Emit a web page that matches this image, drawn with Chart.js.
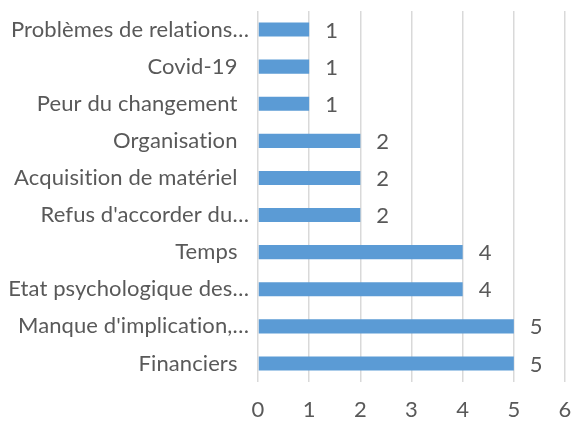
<!DOCTYPE html>
<html>
<head>
<meta charset="utf-8">
<script src="https://cdn.jsdelivr.net/npm/chart.js@4"></script>
<style>
  html, body { margin: 0; padding: 0; background: #fff; overflow: hidden; }
  #wrap { width: 571px; height: 421px; }
  canvas { font-variant-ligatures: none; }
</style>
</head>
<body>
<div id="wrap"><canvas id="chart"></canvas></div>
<script>
const categories = [
  'Problèmes de relations…',
  'Covid-19  ',
  'Peur du changement  ',
  'Organisation  ',
  'Acquisition de matériel  ',
  "Refus d'accorder du…",
  'Temps  ',
  'Etat psychologique des…',
  "Manque d'implication,…",
  'Financiers  '
];
const values = [1, 1, 1, 2, 2, 2, 4, 4, 5, 5];
const xTicks = [0, 1, 2, 3, 4, 5, 6];

const FONT = 'Lato';
const SIZE = 22;
const TEXT = '#595959';

// no "ti" ligatures, like the original text
const noLigatures = {
  id: 'noLigatures',
  beforeDraw(chart) { chart.ctx.letterSpacing = '0.1px'; }
};

// draw value next to each bar end
const valueLabels = {
  id: 'valueLabels',
  afterDatasetsDraw(chart) {
    const ctx = chart.ctx;
    const meta = chart.getDatasetMeta(0);
    ctx.save();
    ctx.font = SIZE + 'px "' + FONT + '"';
    ctx.fillStyle = TEXT;
    ctx.textBaseline = 'middle';
    ctx.textAlign = 'left';
    meta.data.forEach((bar, i) => {
      ctx.fillText(String(values[i]), bar.x + 16, bar.y + 1);
    });
    ctx.restore();
  }
};

new Chart(document.getElementById('chart').getContext('2d'), {
  type: 'bar',
  data: {
    labels: categories,
    datasets: [{
      data: values,
      backgroundColor: '#5B9BD5',
      categoryPercentage: 0.76,
      barPercentage: 0.5
    }]
  },
  plugins: [noLigatures, valueLabels],
  options: {
    indexAxis: 'y',
    responsive: true,
    maintainAspectRatio: false,
    animation: false,
    layout: { padding: { top: 11, right: 6, bottom: 0, left: 0 } },
    plugins: { legend: { display: false }, tooltip: { enabled: false } },
    scales: {
      x: {
        min: 0,
        max: 6,
        afterBuildTicks(axis) { axis.ticks = xTicks.map(v => ({ value: v })); },
        afterFit(axis) { axis.height = 39; axis.paddingLeft = 0; axis.paddingRight = 0; },
        grid: { color: '#d9d9d9', lineWidth: 1.5, drawTicks: false },
        border: { display: false },
        ticks: { color: TEXT, font: { family: FONT, size: SIZE }, padding: 15 }
      },
      y: {
        grid: { display: false },
        border: { display: false },
        afterFit(axis) { axis.width = 258; axis.paddingTop = 0; axis.paddingBottom = 0; },
        ticks: { color: TEXT, font: { family: FONT, size: SIZE }, padding: 1, autoSkip: false }
      }
    }
  }
});
</script>
</body>
</html>
